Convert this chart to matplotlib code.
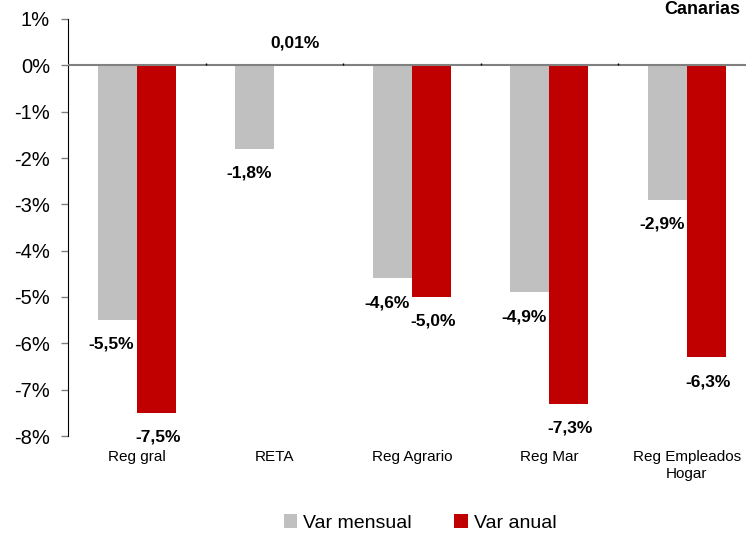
import numpy as np
import matplotlib.pyplot as plt

plt.rcParams['font.family'] = ['Liberation Sans', 'DejaVu Sans']

# datos
categorias = ['Reg gral', 'RETA', 'Reg Agrario', 'Reg Mar', 'Reg Empleados\nHogar']
var_mensual = [-5.5, -1.8, -4.6, -4.9, -2.9]
var_anual = [-7.5, 0.01, -5.0, -7.3, -6.3]
etiq_mensual = ['-5,5%', '-1,8%', '-4,6%', '-4,9%', '-2,9%']
etiq_anual = ['-7,5%', '0,01%', '-5,0%', '-7,3%', '-6,3%']

gris = '#c0c0c0'
rojo = '#c00000'

fig = plt.figure(figsize=(7.46, 5.35), dpi=100)
W, H = 746, 535
# eje: x de 68 a 755.5 px, y de 19 (1%) a 436 (-8%)
ax = fig.add_axes([68 / W, 1 - 436 / H, 687.5 / W, (436 - 19) / H])

x = np.arange(len(categorias))
ancho = 0.284
b1 = ax.bar(x - ancho / 2, var_mensual, ancho, color=gris, label='Var mensual')
b2 = ax.bar(x + ancho / 2, var_anual, ancho, color=rojo, label='Var anual')

ax.set_xlim(-0.5, len(categorias) - 0.5)
ax.set_ylim(-8, 1)
ax.set_yticks(np.arange(-8, 2, 1))
ax.set_yticklabels([f'{v}%' for v in range(-8, 2)], fontsize=14.5)
ax.tick_params(axis='y', direction='out', length=5, width=1, color='#808080', pad=8)

ax.set_xticks(x)
ax.set_xticklabels(categorias, fontsize=11, linespacing=1.3)
ax.tick_params(axis='x', length=0, pad=10)

for s in ['top', 'right', 'bottom']:
    ax.spines[s].set_visible(False)
ax.spines['left'].set_color('black')
ax.axhline(0, color='#808080', linewidth=1.5, zorder=3)
# marcas entre categorias sobre la linea de 0
ax.vlines(np.arange(len(categorias) - 1) + 0.5, 0, 0.06, color='black', linewidth=1, zorder=3)

# etiquetas de datos
for barras, etiquetas, dx in [(b1, etiq_mensual, -4), (b2, etiq_anual, 1)]:
    for b, t in zip(barras, etiquetas):
        v = b.get_height()
        xc = b.get_x() + b.get_width() / 2
        dy = 16 if v > 0.005 else -17.5
        ax.annotate(t, (xc, v), xytext=(dx, dy), textcoords='offset points',
                    ha='center', va='center', fontsize=12.5, fontweight='bold')

fig.text(740 / W, 1 - 10 / H, 'Canarias', ha='right', va='center',
         fontsize=13, fontweight='bold')

fig.legend(handles=[b1, b2], loc='center', bbox_to_anchor=(420 / W, 1 - 523 / H),
           ncol=2, frameon=False, fontsize=14, handlelength=0.7, handleheight=0.7,
           handletextpad=0.3, columnspacing=2.2)

fig.savefig('out.png', dpi=100)
